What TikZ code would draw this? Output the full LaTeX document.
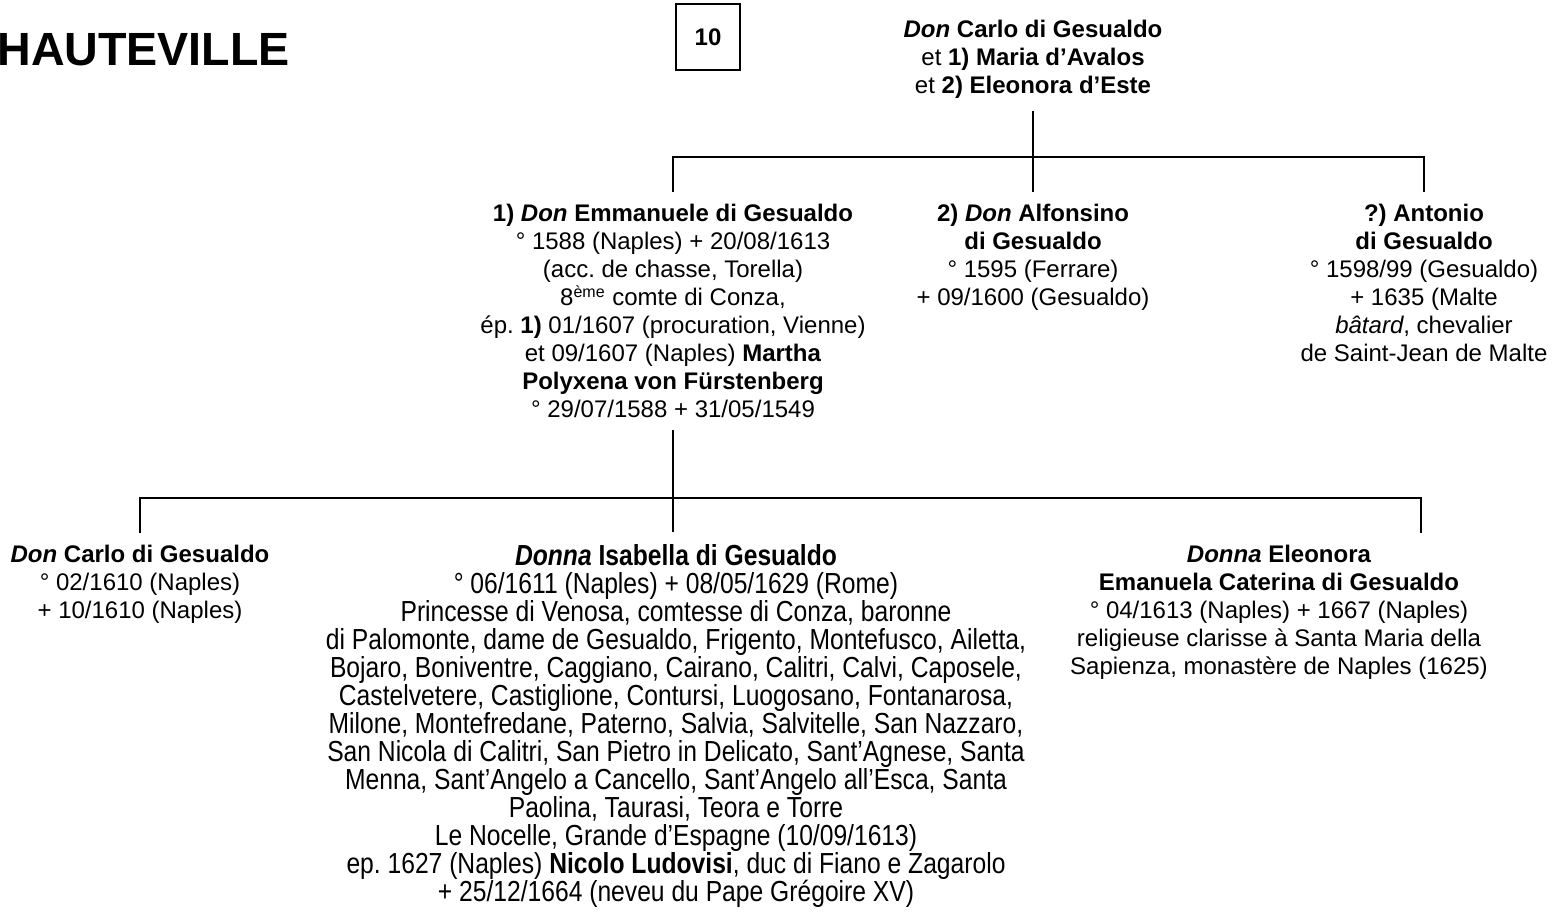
\documentclass[tikz,border=0pt]{standalone}
\usepackage{fontspec}
\setmainfont{Liberation Sans}
\newfontfamily\narrowfont{Liberation Sans}[FakeStretch=0.85]
\newcommand\isafont{\fontsize{14.5}{14}\narrowfont\lineskiplimit=-20pt\relax}
\usepackage{tikz}

\begin{document}
\frenchspacing
\begin{tikzpicture}[x=0.5pt,y=-0.5pt,
  person/.style={align=center,anchor=north,inner xsep=0pt,inner ysep=6pt,
    font=\fontsize{12}{14}\selectfont},
  link/.style={line width=1pt}]
\useasboundingbox (0,0) rectangle (1556,916);

\node[anchor=base west,inner sep=0pt,font=\fontsize{23.3}{26}\selectfont\bfseries] (title) at (-3,65) {HAUTEVILLE};
\node[draw,line width=0.6pt,minimum width=32pt,minimum height=33pt,
  font=\fontsize{12}{14}\selectfont\bfseries] (num) at (708,37) {10};

\node[person] (carlo) at (1033,8) {\textbf{\textit{Don} Carlo di Gesualdo}\\
  et \textbf{1) Maria d’Avalos}\\ et \textbf{2) Eleonora d’Este}};

\node[person] (emm) at (673,192) {\textbf{1) \textit{Don} Emmanuele di Gesualdo}\\
  ° 1588 (Naples) + 20/08/1613\\ (acc. de chasse, Torella)\\
  8\textsuperscript{ème} comte di Conza,\\ ép. \textbf{1)} 01/1607 (procuration, Vienne)\\
  et 09/1607 (Naples) \textbf{Martha}\\ \textbf{Polyxena von Fürstenberg}\\
  ° 29/07/1588 + 31/05/1549};
\node[person] (alf) at (1033,192) {\textbf{2) \textit{Don} Alfonsino}\\ \textbf{di Gesualdo}\\
  ° 1595 (Ferrare)\\ + 09/1600 (Gesualdo)};
\node[person] (anto) at (1424,192) {\textbf{?) Antonio}\\ \textbf{di Gesualdo}\\
  ° 1598/99 (Gesualdo)\\ + 1635 (Malte\\ \textit{bâtard}, chevalier\\ de Saint-Jean de Malte};

\node[person] (carlo2) at (140,533) {\textbf{\textit{Don} Carlo di Gesualdo}\\
  ° 02/1610 (Naples)\\ + 10/1610 (Naples)};
\node[person,font=\isafont] (isa) at (676,532) {\textbf{\textit{Donna} Isabella di Gesualdo}\\
  ° 06/1611 (Naples) + 08/05/1629 (Rome)\\
  Princesse di Venosa, comtesse di Conza, baronne\\
  di Palomonte, dame de Gesualdo, Frigento, Montefusco, Ailetta,\\
  Bojaro, Boniventre, Caggiano, Cairano, Calitri, Calvi, Caposele,\\
  Castelvetere, Castiglione, Contursi, Luogosano, Fontanarosa,\\
  Milone, Montefredane, Paterno, Salvia, Salvitelle, San Nazzaro,\\
  San Nicola di Calitri, San Pietro in Delicato, Sant’Agnese, Santa\\
  Menna, Sant’Angelo a Cancello, Sant’Angelo all’Esca, Santa\\
  Paolina, Taurasi, Teora e Torre\\
  Le Nocelle, Grande d’Espagne (10/09/1613)\\
  ep. 1627 (Naples) \textbf{Nicolo Ludovisi}, duc di Fiano e Zagarolo\\
  + 25/12/1664 (neveu du Pape Grégoire XV)};
\node[person] (ele) at (1279,533) {\textbf{\textit{Donna} Eleonora}\\
  \textbf{Emanuela Caterina di Gesualdo}\\ ° 04/1613 (Naples) + 1667 (Naples)\\
  religieuse clarisse à Santa Maria della\\ Sapienza, monastère de Naples (1625)};
\coordinate (eledrop) at (1421,533);

\draw[link] (carlo.south) -- (alf.north);
\draw[link] (emm.north) -- ++(0,-35) -| (anto.north);
\draw[link] (emm.south) -- (emm.south |- isa.north);
\draw[link] (carlo2.north) -- ++(0,-35) -| (eledrop);
\end{tikzpicture}
\end{document}
